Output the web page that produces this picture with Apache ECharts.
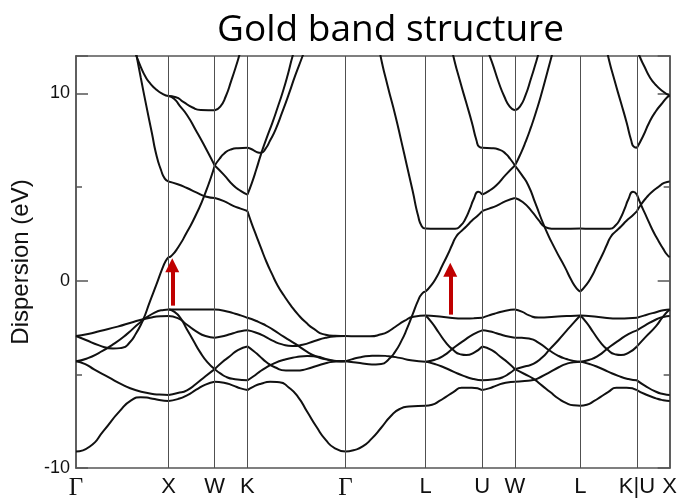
<!DOCTYPE html>
<html>
<head>
<meta charset="utf-8">
<title>Gold band structure</title>
<script src="https://cdn.jsdelivr.net/npm/echarts@6/dist/echarts.min.js"></script>
<style>
  html, body { margin: 0; padding: 0; background: #fff; }
  #chart { width: 680px; height: 501px; }
</style>
</head>
<body>
<div id="chart"></div>
<script>
// High-symmetry points of the FCC path (cumulative |k| in units of 2π/a)
const kTicks  = [0, 1, 1.5, 1.8536, 2.9142, 3.7802, 4.3926, 4.7462, 5.4533, 6.0657, 6.4193];
const kLabels = ['Γ', 'X', 'W', 'K', 'Γ', 'L', 'U', 'W', 'L', 'K|U', 'X'];

// Energy axis (eV)
const eMin = -10, eMax = 12;
const eLabelStep = 10, eMinorStep = 5;

// Bands, one array per path segment; each curve is a list of [k, E] points
const GX = [
  [[0,-9.12],[0.15,-8.85],[0.3,-8.0],[0.47,-6.98],[0.6,-6.38],[0.7,-6.22],[0.8,-6.27],[0.9,-6.37],[1,-6.42]],
  [[0,-4.3],[0.1,-4.45],[0.2,-4.75],[0.35,-5.15],[0.5,-5.55],[0.65,-5.85],[0.8,-6.02],[0.9,-6.08],[1,-6.1]],
  [[0,-4.3],[0.12,-4.15],[0.25,-3.85],[0.4,-3.4],[0.55,-2.85],[0.7,-2.2],[0.85,-1.7],[0.95,-1.56],[1,-1.54]],
  [[0,-2.95],[0.13,-2.85],[0.26,-2.68],[0.45,-2.45],[0.62,-2.2],[0.8,-1.98],[0.92,-1.9],[1,-1.89]],
  [[0,-2.95],[0.1,-3.15],[0.25,-3.45],[0.4,-3.62],[0.5,-3.58],[0.58,-3.3],[0.65,-2.8],[0.72,-2.15],[0.8,-1.1],[0.87,-0.2],[0.93,0.6],[0.97,1.05],[1,1.25]],
  [[0.6,12.75],[0.654,12.0],[0.7,11.42],[0.75,10.9],[0.8,10.55],[0.87,10.2],[0.94,9.97],[1,9.86]],
  [[0.6,13.4],[0.64,12.4],[0.7,10.85],[0.76,9.35],[0.82,7.9],[0.87,6.7],[0.92,5.9],[0.96,5.45],[1,5.3]]
];

const XW = [
  [[1,-1.54],[1.25,-1.53],[1.5,-1.54]],
  [[1,-1.89],[1.1,-2.0],[1.2,-2.35],[1.3,-2.7],[1.4,-2.95],[1.5,-3.04]],
  [[1,-1.54],[1.06,-1.65],[1.13,-2.0],[1.2,-2.6],[1.27,-3.2],[1.34,-3.8],[1.42,-4.35],[1.5,-4.72]],
  [[1,-6.1],[1.1,-6.0],[1.2,-5.85],[1.3,-5.5],[1.4,-5.1],[1.5,-4.72]],
  [[1,-6.42],[1.1,-6.32],[1.2,-6.12],[1.3,-5.82],[1.4,-5.55],[1.5,-5.4]],
  [[1,1.25],[1.03,1.32],[1.1,1.75],[1.2,2.6],[1.3,3.55],[1.4,4.7],[1.5,6.15]],
  [[1,5.3],[1.1,5.15],[1.2,4.95],[1.3,4.72],[1.4,4.5],[1.5,4.42]],
  [[1,9.86],[1.08,9.8],[1.16,9.55],[1.26,9.25],[1.35,9.12],[1.5,9.1]],
  [[1,9.86],[1.06,9.72],[1.12,9.35],[1.2,8.85],[1.3,8.0],[1.4,7.1],[1.5,6.15]]
];

const WK = [
  [[1.5,-1.54],[1.6,-1.6],[1.7,-1.73],[1.78,-1.85],[1.8536,-1.98]],
  [[1.5,-3.04],[1.6,-2.95],[1.7,-2.8],[1.78,-2.7],[1.8536,-2.65]],
  [[1.5,-4.72],[1.58,-4.35],[1.66,-4.05],[1.75,-3.7],[1.8536,-3.51]],
  [[1.5,-4.72],[1.56,-4.95],[1.63,-5.15],[1.72,-5.26],[1.8536,-5.32]],
  [[1.5,-5.4],[1.6,-5.45],[1.7,-5.6],[1.78,-5.75],[1.8536,-5.84]],
  [[1.5,6.15],[1.55,6.5],[1.6,6.78],[1.67,7.0],[1.75,7.08],[1.8536,7.1]],
  [[1.5,6.15],[1.6,5.65],[1.7,5.1],[1.78,4.8],[1.8536,4.6]],
  [[1.5,4.42],[1.6,4.25],[1.7,4.0],[1.78,3.85],[1.8536,3.72]],
  [[1.5,9.1],[1.56,9.3],[1.62,9.85],[1.68,10.7],[1.73,11.45],[1.77,12.1],[1.82,12.9]]
];

const KG = [
  [[1.8536,-1.98],[1.95,-2.15],[2.05,-2.38],[2.125,-2.6],[2.25,-3.0],[2.377,-3.39],[2.5,-3.8],[2.6,-4.05],[2.7,-4.2],[2.8,-4.28],[2.9142,-4.3]],
  [[1.8536,-2.65],[1.95,-2.78],[2.05,-3.0],[2.125,-3.2],[2.23,-3.4],[2.34,-3.48],[2.45,-3.42],[2.58,-3.22],[2.7,-3.05],[2.82,-2.97],[2.9142,-2.95]],
  [[1.8536,-3.51],[1.92,-3.75],[1.98,-4.0],[2.06,-4.35],[2.15,-4.62],[2.27,-4.79],[2.38,-4.8],[2.49,-4.72],[2.6,-4.55],[2.72,-4.38],[2.82,-4.31],[2.9142,-4.3]],
  [[1.8536,-5.32],[1.92,-5.1],[1.98,-4.88],[2.05,-4.65],[2.125,-4.45],[2.25,-4.22],[2.38,-4.08],[2.5,-4.02],[2.6,-4.05],[2.72,-4.2],[2.82,-4.28],[2.9142,-4.3]],
  [[1.8536,-5.84],[1.92,-5.65],[2.0,-5.5],[2.1,-5.4],[2.2,-5.42],[2.3,-5.7],[2.4,-6.2],[2.5,-7.0],[2.6,-7.8],[2.7,-8.5],[2.8,-8.95],[2.9142,-9.12]],
  [[1.8536,3.72],[1.9,3.05],[1.95,2.4],[2.0,1.75],[2.06,1.0],[2.12,0.35],[2.18,-0.25],[2.25,-0.8],[2.32,-1.3],[2.4,-1.8],[2.49,-2.25],[2.58,-2.6],[2.67,-2.85],[2.8,-2.94],[2.9142,-2.95]],
  [[1.8536,7.1],[1.9,7.02],[1.95,6.88],[2.0,6.83],[2.05,7.05],[2.1,7.5],[2.16,8.1],[2.23,9.0],[2.3,9.95],[2.37,10.95],[2.45,12.0],[2.5,12.7]],
  [[1.8536,4.6],[1.9,5.2],[1.95,5.95],[2.0,6.75],[2.06,7.6],[2.125,8.46],[2.18,9.25],[2.233,10.04],[2.29,11.0],[2.34,11.96],[2.38,12.6]]
];

const GL = [
  [[2.9142,-2.95],[3.05,-2.97],[3.18,-2.97],[3.3,-2.86],[3.38,-2.7],[3.45,-2.47],[3.55,-2.15],[3.65,-1.92],[3.7802,-1.86]],
  [[2.9142,-4.3],[3.0,-4.35],[3.1,-4.42],[3.2,-4.47],[3.3,-4.45],[3.38,-4.2],[3.45,-3.8],[3.52,-3.2],[3.58,-2.55],[3.64,-1.8],[3.7,-1.05],[3.74,-0.7],[3.7802,-0.58]],
  [[2.9142,-4.3],[2.98,-4.2],[3.06,-4.1],[3.17,-4.02],[3.27,-4.0],[3.38,-4.03],[3.5,-4.12],[3.62,-4.25],[3.7802,-4.32]],
  [[2.9142,-9.12],[3.0,-9.05],[3.1,-8.85],[3.2,-8.42],[3.3,-7.85],[3.4,-7.25],[3.5,-6.85],[3.6,-6.72],[3.7802,-6.67]],
  [[3.26,13.0],[3.293,12.0],[3.37,10.4],[3.454,8.8],[3.52,7.4],[3.58,6.1],[3.64,4.8],[3.7,3.45],[3.74,2.9],[3.7802,2.79]]
];

const LU = [
  [[3.7802,-1.86],[3.9,-1.9],[4.0,-1.95],[4.1,-2.0],[4.2,-2.02],[4.3,-2.0],[4.3926,-1.98]],
  [[3.7802,-1.86],[3.85,-2.25],[3.92,-2.75],[4.0,-3.3],[4.08,-3.7],[4.15,-3.92],[4.22,-3.97],[4.3,-3.85],[4.3926,-3.51]],
  [[3.7802,-4.32],[3.88,-4.22],[3.975,-4.0],[4.08,-3.6],[4.19,-3.21],[4.3,-2.85],[4.3926,-2.65]],
  [[3.7802,-4.32],[3.88,-4.45],[3.975,-4.62],[4.08,-4.85],[4.19,-5.08],[4.3,-5.25],[4.3926,-5.32]],
  [[3.7802,-6.67],[3.85,-6.62],[3.93,-6.42],[4.0,-6.2],[4.08,-5.95],[4.17,-5.72],[4.28,-5.72],[4.3926,-5.84]],
  [[3.7802,-0.58],[3.84,-0.25],[3.9,0.2],[3.96,0.8],[4.02,1.4],[4.07,1.95],[4.11,2.35],[4.16,2.62],[4.22,2.9],[4.28,3.2],[4.34,3.46],[4.3926,3.72]],
  [[3.7802,2.79],[3.9,2.77],[4.0,2.77],[4.1,2.78],[4.16,2.95],[4.21,3.3],[4.26,3.85],[4.3,4.35],[4.35,4.75],[4.3926,4.6]],
  [[4.04,13.0],[4.08,12.0],[4.15,10.7],[4.22,9.5],[4.28,8.46],[4.33,7.5],[4.36,7.15],[4.3926,7.1]]
];

const UW = [
  [[4.3926,-1.98],[4.466,-1.85],[4.546,-1.73],[4.646,-1.6],[4.7462,-1.54]],
  [[4.3926,-2.65],[4.466,-2.7],[4.546,-2.8],[4.646,-2.95],[4.7462,-3.04]],
  [[4.3926,-3.51],[4.496,-3.7],[4.586,-4.05],[4.666,-4.35],[4.7462,-4.72]],
  [[4.3926,-5.32],[4.526,-5.26],[4.616,-5.15],[4.686,-4.95],[4.7462,-4.72]],
  [[4.3926,-5.84],[4.466,-5.75],[4.546,-5.6],[4.646,-5.45],[4.7462,-5.4]],
  [[4.3926,3.72],[4.466,3.85],[4.546,4.0],[4.646,4.25],[4.7462,4.42]],
  [[4.3926,4.6],[4.466,4.8],[4.546,5.1],[4.646,5.65],[4.7462,6.15]],
  [[4.3926,7.1],[4.496,7.08],[4.576,7.0],[4.646,6.78],[4.696,6.5],[4.7462,6.15]],
  [[4.42,12.9],[4.46,12.2],[4.51,11.5],[4.57,10.6],[4.63,9.85],[4.69,9.3],[4.7462,9.1]]
];

const WL = [
  [[4.7462,-1.54],[4.82,-1.65],[4.9,-1.85],[5.0,-1.97],[5.1,-1.95],[5.25,-1.9],[5.35,-1.88],[5.4533,-1.86]],
  [[4.7462,-3.04],[4.82,-3.05],[4.908,-3.1],[5.0,-3.3],[5.124,-3.74],[5.22,-4.02],[5.303,-4.18],[5.38,-4.28],[5.4533,-4.32]],
  [[4.7462,-4.72],[4.85,-4.58],[4.944,-4.44],[5.04,-4.1],[5.124,-3.65],[5.22,-3.15],[5.303,-2.68],[5.38,-2.25],[5.4533,-1.86]],
  [[4.7462,-4.72],[4.85,-4.98],[4.944,-5.23],[5.04,-5.6],[5.124,-5.93],[5.22,-6.3],[5.303,-6.54],[5.38,-6.65],[5.4533,-6.67]],
  [[4.7462,-5.4],[4.85,-5.36],[4.944,-5.3],[5.04,-5.1],[5.124,-4.88],[5.22,-4.62],[5.303,-4.44],[5.38,-4.35],[5.4533,-4.32]],
  [[4.7462,6.15],[4.82,5.65],[4.89,5.1],[4.97,4.1],[5.07,2.84],[5.18,1.7],[5.285,0.74],[5.36,0.0],[5.42,-0.45],[5.4533,-0.58]],
  [[4.7462,6.15],[4.8,6.7],[4.86,7.4],[4.92,8.2],[4.98,9.1],[5.04,10.1],[5.1,11.2],[5.16,12.3]],
  [[4.7462,4.42],[4.83,4.2],[4.926,3.72],[5.0,3.25],[5.07,2.88],[5.15,2.78],[5.25,2.77],[5.35,2.78],[5.4533,2.79]],
  [[4.7462,9.1],[4.8,9.3],[4.86,9.9],[4.92,10.8],[4.97,11.6],[5.0,12.1],[5.04,12.8]]
];

const LK = [
  [[5.4533,-1.86],[5.573,-1.9],[5.673,-1.95],[5.773,-2.0],[5.873,-2.02],[5.973,-2.0],[6.0657,-1.98]],
  [[5.4533,-1.86],[5.523,-2.25],[5.593,-2.75],[5.673,-3.3],[5.753,-3.7],[5.823,-3.92],[5.893,-3.97],[5.973,-3.85],[6.0657,-3.51]],
  [[5.4533,-4.32],[5.553,-4.22],[5.648,-4.0],[5.753,-3.6],[5.863,-3.21],[5.973,-2.85],[6.0657,-2.65]],
  [[5.4533,-4.32],[5.553,-4.45],[5.648,-4.62],[5.753,-4.85],[5.863,-5.08],[5.973,-5.25],[6.0657,-5.32]],
  [[5.4533,-6.67],[5.523,-6.62],[5.603,-6.42],[5.673,-6.2],[5.753,-5.95],[5.843,-5.72],[5.953,-5.72],[6.0657,-5.84]],
  [[5.4533,-0.58],[5.513,-0.25],[5.573,0.2],[5.633,0.8],[5.693,1.4],[5.743,1.95],[5.783,2.35],[5.833,2.62],[5.893,2.9],[5.953,3.2],[6.013,3.46],[6.0657,3.72]],
  [[5.4533,2.79],[5.573,2.77],[5.673,2.77],[5.773,2.78],[5.833,2.95],[5.883,3.3],[5.933,3.85],[5.973,4.35],[6.023,4.75],[6.0657,4.6]],
  [[5.713,13.0],[5.753,12.0],[5.823,10.7],[5.893,9.5],[5.953,8.46],[6.003,7.5],[6.033,7.15],[6.0657,7.1]]
];

const UX = [
  [[6.0657,-1.98],[6.15,-1.85],[6.272,-1.68],[6.35,-1.58],[6.4193,-1.54]],
  [[6.0657,-2.65],[6.15,-2.4],[6.272,-2.07],[6.35,-1.94],[6.4193,-1.89]],
  [[6.0657,-3.51],[6.15,-3.05],[6.272,-2.42],[6.35,-1.9],[6.4193,-1.54]],
  [[6.0657,-5.32],[6.15,-5.6],[6.272,-5.93],[6.35,-6.05],[6.4193,-6.1]],
  [[6.0657,-5.84],[6.15,-6.05],[6.272,-6.28],[6.35,-6.38],[6.4193,-6.42]],
  [[6.0657,7.1],[6.13,7.7],[6.2,8.46],[6.27,9.05],[6.344,9.51],[6.39,9.78],[6.4193,9.88]],
  [[6.05,12.6],[6.093,12.0],[6.15,11.4],[6.2,10.91],[6.27,10.45],[6.344,10.12],[6.4193,9.88]],
  [[6.0657,3.72],[6.11,4.07],[6.17,4.45],[6.23,4.75],[6.3,5.02],[6.36,5.22],[6.4193,5.3]],
  [[6.0657,4.6],[6.11,4.05],[6.17,3.4],[6.23,2.75],[6.29,2.2],[6.35,1.7],[6.39,1.4],[6.4193,1.26]]
];

// Red arrows: [k, E at tail, E at head]
const arrows = [
  [1.041, -1.33, 0.82],
  [4.047, -1.81, 0.58]
];

const segments = [GX, XW, WK, KG, GL, LU, UW, WL, LK, UX];

const chart = echarts.init(document.getElementById('chart'), null, { renderer: 'canvas' });

const frameColor = '#555';
const sans = 'Liberation Sans, Arial, sans-serif';

function kLabel(v) {
  let best = 0;
  for (let i = 1; i < kTicks.length; i++) {
    if (Math.abs(kTicks[i] - v) < Math.abs(kTicks[best] - v)) best = i;
  }
  const t = kLabels[best];
  return t === 'Γ' ? '{g|Γ}' : '{s|' + t + '}';
}

const series = [];

// Vertical lines at the interior high-symmetry points
series.push({
  type: 'line',
  data: [],
  silent: true,
  markLine: {
    silent: true,
    symbol: ['none', 'none'],
    label: { show: false },
    lineStyle: { color: '#505050', width: 1, type: 'solid' },
    emphasis: { disabled: true },
    data: kTicks.slice(1, -1).map(v => ({ xAxis: v }))
  }
});

segments.forEach(seg => {
  seg.forEach(curve => {
    series.push({
      type: 'line',
      data: curve,
      smooth: 0.6,
      symbol: 'none',
      showSymbol: false,
      clip: true,
      silent: true,
      lineStyle: { color: '#111', width: 2 },
      emphasis: { disabled: true }
    });
  });
});

// Arrows
series.push({
  type: 'line',
  data: [],
  silent: true,
  z: 5,
  markLine: {
    silent: true,
    symbol: ['none', 'triangle'],
    symbolSize: [14, 14],
    label: { show: false },
    lineStyle: { color: '#c00000', width: 4, type: 'solid' },
    itemStyle: { color: '#c00000' },
    emphasis: { disabled: true },
    data: arrows.map(a => [{ coord: [a[0], a[1]] }, { coord: [a[0], a[2]] }])
  }
});

const yCommon = {
  type: 'value',
  min: eMin,
  max: eMax,
  splitLine: { show: false },
  axisLine: { show: true, onZero: false, lineStyle: { color: frameColor, width: 1.5 } },
  axisLabel: { show: false }
};

chart.setOption({
  animation: false,
  backgroundColor: '#fff',
  title: {
    text: 'Gold band structure',
    left: 212,
    top: 7,
    textStyle: { fontFamily: 'Open Sans', fontSize: 37, fontWeight: 'normal', color: '#000' }
  },
  grid: { left: 76, top: 56, width: 596, height: 417, containLabel: false },
  xAxis: [
    {
      type: 'value',
      min: kTicks[0],
      max: kTicks[kTicks.length - 1],
      position: 'bottom',
      splitLine: { show: false },
      axisTick: { show: false },
      axisLine: { show: true, onZero: false, lineStyle: { color: frameColor, width: 1.5 } },
      axisLabel: {
        customValues: kTicks,
        margin: 8,
        formatter: kLabel,
        rich: {
          g: { fontFamily: 'Liberation Serif, Times New Roman, serif', fontSize: 25, color: '#111' },
          s: { fontFamily: sans, fontSize: 22, color: '#111' }
        }
      }
    },
    {
      type: 'value',
      min: kTicks[0],
      max: kTicks[kTicks.length - 1],
      position: 'top',
      splitLine: { show: false },
      axisTick: { show: false },
      axisLabel: { show: false },
      axisLine: { show: true, onZero: false, lineStyle: { color: frameColor, width: 1.5 } }
    }
  ],
  yAxis: [
    Object.assign({}, yCommon, {
      position: 'left',
      interval: eLabelStep,
      axisTick: { show: true, inside: true, length: 12, lineStyle: { color: frameColor, width: 1.5 } },
      axisLabel: {
        show: true,
        margin: 6,
        fontFamily: sans,
        fontSize: 18,
        color: '#111',
        formatter: v => (v % eLabelStep === 0 ? String(v) : '')
      },
      name: 'Dispersion (eV)',
      nameLocation: 'middle',
      nameRotate: 90,
      nameGap: 42,
      nameTextStyle: { fontFamily: sans, fontSize: 24, color: '#111' }
    }),
    Object.assign({}, yCommon, {
      position: 'left',
      interval: eMinorStep,
      axisTick: { show: true, inside: true, length: 6, lineStyle: { color: frameColor, width: 1.5 } }
    }),
    Object.assign({}, yCommon, {
      position: 'right',
      interval: eLabelStep,
      axisTick: { show: true, inside: true, length: 12, lineStyle: { color: frameColor, width: 1.5 } }
    }),
    Object.assign({}, yCommon, {
      position: 'right',
      interval: eMinorStep,
      axisTick: { show: true, inside: true, length: 6, lineStyle: { color: frameColor, width: 1.5 } }
    })
  ],
  series: series
});
</script>
</body>
</html>
